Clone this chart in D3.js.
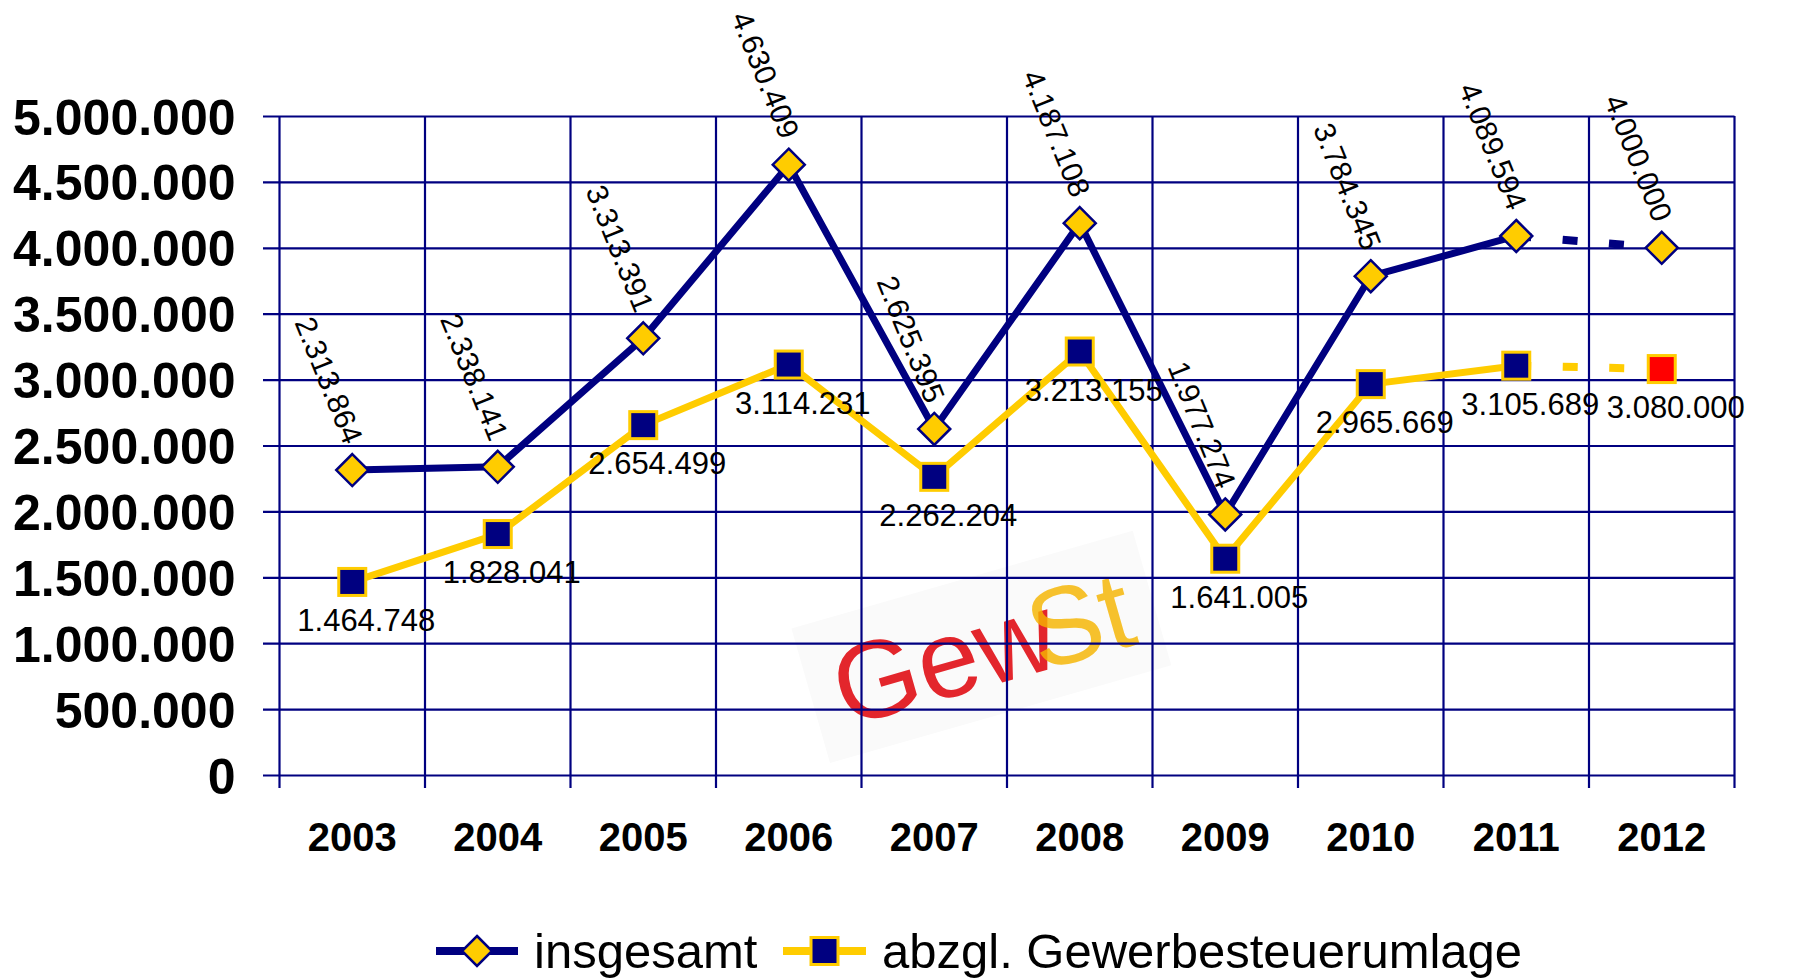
<!DOCTYPE html>
<html lang="de">
<head>
    <meta charset="UTF-8">
    <style>
        html, body {
            margin:0;
            height:100%;
            overflow:hidden;
            background:#fff;
        }
        svg {
            position:absolute;
            top:0;
            left:0;
            font-family:"Liberation Sans", Arial, sans-serif;
        }
    </style>
    <script src="https://d3js.org/d3.v7.min.js"></script>
</head>
<body>
<svg width="1794" height="979"></svg>
<script>
    // data
    var years = ["2003", "2004", "2005", "2006", "2007", "2008", "2009", "2010", "2011", "2012"];
    var insgesamt = [2313864, 2338141, 3313391, 4630409, 2625395, 4187108, 1977274, 3784345, 4089594, 4000000];
    var abzgl = [1464748, 1828041, 2654499, 3114231, 2262204, 3213155, 1641005, 2965669, 3105689, 3080000];
    var yTicks = [0, 500000, 1000000, 1500000, 2000000, 2500000, 3000000, 3500000, 4000000, 4500000, 5000000];
    var seriesNames = ["insgesamt", "abzgl. Gewerbesteuerumlage"];

    var navy = "#000080", gold = "#FFCC00", red = "#FF0000";

    var de = d3.formatLocale({decimal: ",", thousands: ".", grouping: [3], currency: ["", " €"]});
    var fmt = de.format(",d");

    var svg = d3.select("svg");
    var plotL = 279.5, plotR = 1734.5, plotT = 116, plotB = 775;

    var x = d3.scaleBand().domain(years).range([plotL, plotR]).padding(0);
    var y = d3.scaleLinear().domain([0, 5000000]).range([plotB, plotT]);
    var cx = function(d, i) { return x(years[i]) + x.bandwidth() / 2; };

    // GewSt logo watermark, sits under the grid
    var logo = svg.append("g")
        .attr("transform", "translate(990,686) rotate(-16)");
    logo.append("rect")
        .attr("x", -175).attr("y", -110)
        .attr("width", 355).attr("height", 140)
        .attr("fill", "#fafafa");
    var lt = logo.append("text")
        .attr("x", -150).attr("y", 0)
        .style("font-size", "110px");
    lt.append("tspan").attr("fill", "#e3262c").text("Gew");
    lt.append("tspan").attr("dx", -24).attr("fill", "#f5b400").attr("fill-opacity", 0.82).text("St");

    // horizontal grid
    svg.append("g")
        .attr("transform", "translate(263,0)")
        .call(d3.axisRight(y).tickValues(yTicks).tickSize(plotR - 263).tickFormat(""))
        .call(function(g) { g.select(".domain").remove(); })
        .selectAll("line")
        .attr("stroke", navy)
        .attr("stroke-width", 2.2);

    // y labels
    svg.append("g")
        .attr("transform", "translate(" + plotL + ",0)")
        .call(d3.axisLeft(y).tickValues(yTicks).tickSize(0).tickPadding(44).tickFormat(fmt))
        .call(function(g) { g.select(".domain").remove(); })
        .selectAll("text")
        .attr("fill", "#000")
        .style("font-size", "50px")
        .style("font-weight", "bold")
        .attr("dy", "0.36em");

    // vertical grid at category boundaries
    var bounds = years.map(function(d) { return x(d); }).concat([x.range()[1]]);
    svg.append("g").selectAll("line")
        .data(bounds)
        .enter().append("line")
        .attr("x1", function(d) { return d; })
        .attr("x2", function(d) { return d; })
        .attr("y1", plotT)
        .attr("y2", plotB + 13)
        .attr("stroke", navy)
        .attr("stroke-width", 2.2);

    // x labels
    svg.append("g")
        .attr("transform", "translate(0," + plotB + ")")
        .call(d3.axisBottom(x).tickSize(0))
        .call(function(g) { g.select(".domain").remove(); })
        .selectAll("text")
        .attr("fill", "#000")
        .attr("y", 76)
        .attr("dy", null)
        .style("font-size", "40px")
        .style("font-weight", "bold");

    function drawSeries(values, color, width) {
        var n = values.length;
        svg.append("path")
            .datum(values)
            .attr("fill", "none")
            .attr("stroke", color)
            .attr("stroke-width", width)
            .attr("stroke-linejoin", "round")
            .attr("d", d3.line()
                .defined(function(d, i) { return i < n - 1; })
                .x(function(d, i) { return cx(d, i); })
                .y(function(d) { return y(d); }));
        // forecast segment dashed
        svg.append("line")
            .attr("x1", cx(null, n - 2)).attr("y1", y(values[n - 2]))
            .attr("x2", cx(null, n - 1)).attr("y2", y(values[n - 1]))
            .attr("stroke", color)
            .attr("stroke-width", width + 1)
            .attr("stroke-dasharray", "15,31.5");
    }

    drawSeries(insgesamt, navy, 7);
    drawSeries(abzgl, gold, 7);

    var diamond = function(s) { return "M0," + (-s) + "L" + s + ",0L0," + s + "L" + (-s) + ",0Z"; };

    svg.append("g").selectAll("path")
        .data(insgesamt)
        .enter().append("path")
        .attr("d", diamond(16))
        .attr("transform", function(d, i) { return "translate(" + cx(d, i) + "," + y(d) + ")"; })
        .attr("fill", gold)
        .attr("stroke", navy)
        .attr("stroke-width", 2.5);

    svg.append("g").selectAll("rect")
        .data(abzgl)
        .enter().append("rect")
        .attr("x", function(d, i) { return cx(d, i) - 13.5; })
        .attr("y", function(d) { return y(d) - 13.5; })
        .attr("width", 27)
        .attr("height", 27)
        .attr("fill", function(d, i) { return i === abzgl.length - 1 ? red : navy; })
        .attr("stroke", gold)
        .attr("stroke-width", 3);

    // value labels
    svg.append("g").selectAll("text")
        .data(insgesamt)
        .enter().append("text")
        .attr("transform", function(d, i) {
            return "translate(" + (cx(d, i) - 8) + "," + (y(d) - 24) + ") rotate(68)";
        })
        .attr("text-anchor", "end")
        .style("font-size", "30px")
        .text(fmt);

    svg.append("g").selectAll("text")
        .data(abzgl)
        .enter().append("text")
        .attr("x", function(d, i) { return cx(d, i) + 14; })
        .attr("y", function(d) { return y(d) + 49; })
        .attr("text-anchor", "middle")
        .style("font-size", "31px")
        .text(fmt);

    // legend
    var legend = svg.append("g").attr("transform", "translate(0,951)");
    var items = [
        {name: seriesNames[0], x0: 436, x1: 518, color: navy, mark: "diamond"},
        {name: seriesNames[1], x0: 783, x1: 866, color: gold, mark: "square"}
    ];
    items.forEach(function(it) {
        var mid = (it.x0 + it.x1) / 2;
        legend.append("line")
            .attr("x1", it.x0).attr("x2", it.x1)
            .attr("stroke", it.color)
            .attr("stroke-width", 8);
        if (it.mark === "diamond") {
            legend.append("path")
                .attr("d", diamond(15))
                .attr("transform", "translate(" + mid + ",0)")
                .attr("fill", gold)
                .attr("stroke", navy)
                .attr("stroke-width", 2.5);
        } else {
            legend.append("rect")
                .attr("x", mid - 13.5).attr("y", -13.5)
                .attr("width", 27).attr("height", 27)
                .attr("fill", navy)
                .attr("stroke", gold)
                .attr("stroke-width", 3);
        }
        legend.append("text")
            .attr("x", it.x1 + 16)
            .attr("y", 17)
            .style("font-size", "49px")
            .text(it.name);
    });
</script>
</body>
</html>
